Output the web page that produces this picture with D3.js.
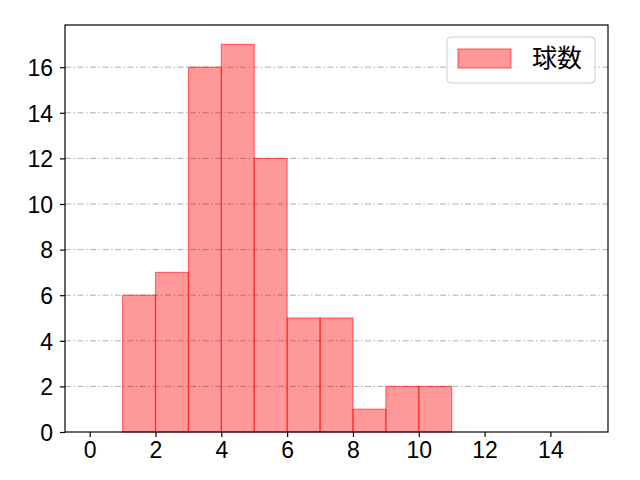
<!DOCTYPE html>
<html><head><meta charset="utf-8">
<script src="https://cdn.jsdelivr.net/npm/d3@7"></script>
<style>body{margin:0;background:#fff}svg{display:block}</style>
</head><body>
<script>
const binStarts = [1,2,3,4,5,6,7,8,9,10];
const binWidth = 1;
const counts = [6,7,16,17,12,5,5,1,2,2];
const xTicks = [0,2,4,6,8,10,12,14];
const yTicks = [0,2,4,6,8,10,12,14,16];
const seriesName = "球数";

const W=640,H=480, L=65,R=608,T=25,B=432;
const font = "'Liberation Sans', Arial, sans-serif";
const cjk = "'Noto Sans CJK JP', sans-serif";
const svg = d3.select("body").append("svg").attr("width",W).attr("height",H);
const x = d3.scaleLinear().domain([-0.75,15.75]).range([L,R]);
const y = d3.scaleLinear().domain([0,17.85]).range([B,T]);

// grid
svg.append("g").selectAll("line").data(yTicks.filter(d=>d>0)).join("line")
  .attr("x1",L).attr("x2",R).attr("y1",d=>y(d)).attr("y2",d=>y(d))
  .attr("stroke","#b0b0b0").attr("stroke-width",1).attr("stroke-dasharray","6,2.5,1.5,2.5");

// bars
svg.append("g").selectAll("rect").data(binStarts).join("rect")
  .attr("x",(d)=>x(d)).attr("width",d=>x(d+binWidth)-x(d))
  .attr("y",(d,i)=>y(counts[i])).attr("height",(d,i)=>y(0)-y(counts[i]))
  .attr("fill","rgba(255,0,0,0.4)").attr("stroke","rgba(255,0,0,0.5)").attr("stroke-width",1.2);

// axes frame
svg.append("rect").attr("x",L).attr("y",T).attr("width",R-L).attr("height",B-T)
  .attr("fill","none").attr("stroke","#000").attr("stroke-width",1.2);

const xa = svg.append("g").attr("transform",`translate(0,${B})`)
  .call(d3.axisBottom(x).tickValues(xTicks).tickSize(5).tickPadding(4));
const ya = svg.append("g").attr("transform",`translate(${L},0)`)
  .call(d3.axisLeft(y).tickValues(yTicks).tickSize(5).tickPadding(7));
[xa,ya].forEach(a=>{
  a.select(".domain").remove();
  a.selectAll("line").attr("stroke","#000").attr("stroke-width",1.2);
  a.selectAll("text").attr("font-family",font).attr("font-size",23).attr("fill","#000");
});
xa.selectAll("text").attr("dy","0.75em");
ya.selectAll("text").attr("dy","0.36em");

// legend
const lg = svg.append("g");
lg.append("rect").attr("x",447).attr("y",37).attr("width",148).attr("height",46).attr("rx",4)
  .attr("fill","rgba(255,255,255,0.8)").attr("stroke","#cccccc").attr("stroke-width",1);
lg.append("rect").attr("x",458).attr("y",49).attr("width",53).attr("height",19)
  .attr("fill","rgba(255,0,0,0.4)").attr("stroke","rgba(255,0,0,0.5)").attr("stroke-width",1.2);
lg.append("text").attr("x",532).attr("y",58).attr("dy","0.36em").attr("font-family",cjk)
  .attr("font-size",25).text(seriesName);
</script>
</body></html>
